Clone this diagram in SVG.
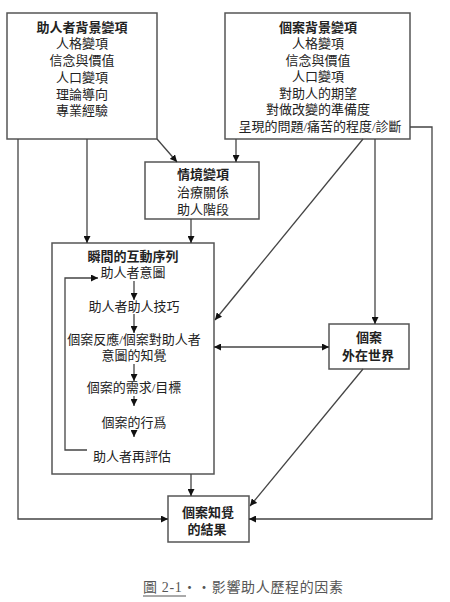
<svg xmlns="http://www.w3.org/2000/svg" width="450" height="602" viewBox="0 0 450 602">
<style>
.box{fill:#fff;stroke:#555;stroke-width:1.5}
.c{fill:none;stroke:#444;stroke-width:1.3}
text{font-family:"Liberation Serif","Noto Sans CJK TC",serif;font-size:13px;fill:#222;text-anchor:middle}
.b{font-weight:bold}
.cap{font-size:14px;fill:#555;text-anchor:start}
</style>
<defs>
<marker id="a" viewBox="0 0 10 10" refX="10" refY="5" markerWidth="7" markerHeight="7" markerUnits="userSpaceOnUse" orient="auto-start-reverse">
<path d="M0,0 L10,5 L0,10 z" fill="#111"/>
</marker>
</defs>
<rect width="450" height="602" fill="#fff"/>
<g id="helper-bg">
<rect class="box" x="7" y="13" width="150" height="126"/>
<text class="b" x="82" y="32">助人者背景變項</text>
<text x="82" y="48">人格變項</text>
<text x="82" y="65">信念與價值</text>
<text x="82" y="82">人口變項</text>
<text x="82" y="99">理論導向</text>
<text x="82" y="115">專業經驗</text>
</g>
<g id="client-bg">
<rect class="box" x="225" y="13" width="185" height="126"/>
<text class="b" x="318" y="32">個案背景變項</text>
<text x="318" y="48">人格變項</text>
<text x="318" y="65">信念與價值</text>
<text x="318" y="81">人口變項</text>
<text x="318" y="98">對助人的期望</text>
<text x="318" y="114">對做改變的準備度</text>
<text x="320" y="131">呈現的問題/痛苦的程度/診斷</text>
</g>
<g id="situation">
<rect class="box" x="145" y="162" width="114" height="57"/>
<text class="b" x="203" y="179">情境變項</text>
<text x="203" y="197">治療關係</text>
<text x="203" y="214">助人階段</text>
</g>
<g id="interaction">
<rect class="box" x="52" y="243" width="162" height="231"/>
<text class="b" x="133" y="261">瞬間的互動序列</text>
<text x="133" y="277">助人者意圖</text>
<text x="134" y="311">助人者助人技巧</text>
<text x="134" y="344">個案反應/個案對助人者</text>
<text x="134" y="360">意圖的知覺</text>
<text x="134" y="392">個案的需求/目標</text>
<text x="134" y="427">個案的行爲</text>
<text x="132" y="461">助人者再評估</text>
</g>
<g id="external">
<rect class="box" x="329" y="324" width="80" height="45"/>
<text class="b" x="369" y="342">個案</text>
<text class="b" x="368" y="360">外在世界</text>
</g>
<g id="outcome">
<rect class="box" x="168" y="496" width="81" height="46"/>
<text class="b" x="208" y="517">個案知覺</text>
<text class="b" x="207" y="534">的結果</text>
</g>
<g id="connectors">
<path class="c" d="M157,139 L177,162" marker-end="url(#a)"/>
<path class="c" d="M236,139 V162" marker-end="url(#a)"/>
<path class="c" d="M87,139 V243" marker-end="url(#a)"/>
<path class="c" d="M191,219 V243" marker-end="url(#a)"/>
<path class="c" d="M363,139 L215,320" marker-end="url(#a)"/>
<path class="c" d="M375,139 V324" marker-end="url(#a)"/>
<path class="c" d="M214,347 H329" marker-start="url(#a)" marker-end="url(#a)"/>
<path class="c" d="M410,127 H432 V519 H249" marker-end="url(#a)"/>
<path class="c" d="M18,139 V519 H168" marker-end="url(#a)"/>
<path class="c" d="M191,474 V496" marker-end="url(#a)"/>
<path class="c" d="M363,369 L250,506" marker-end="url(#a)"/>
<path class="c" d="M134,281 V300" marker-end="url(#a)"/>
<path class="c" d="M134,314 V333" marker-end="url(#a)"/>
<path class="c" d="M134,364 V381" marker-end="url(#a)"/>
<path class="c" d="M134,396 V406" marker-end="url(#a)"/>
<path class="c" d="M134,430 V437" marker-end="url(#a)"/>
<path class="c" d="M87,450 H65 V278 H98" marker-end="url(#a)"/>
</g>
<g id="caption">
<text class="cap" x="143" y="592" textLength="200" lengthAdjust="spacing">圖 2-1‧‧影響助人歷程的因素</text>
<path d="M143,596 H186" stroke="#555" stroke-width="1"/>
</g>
</svg>
